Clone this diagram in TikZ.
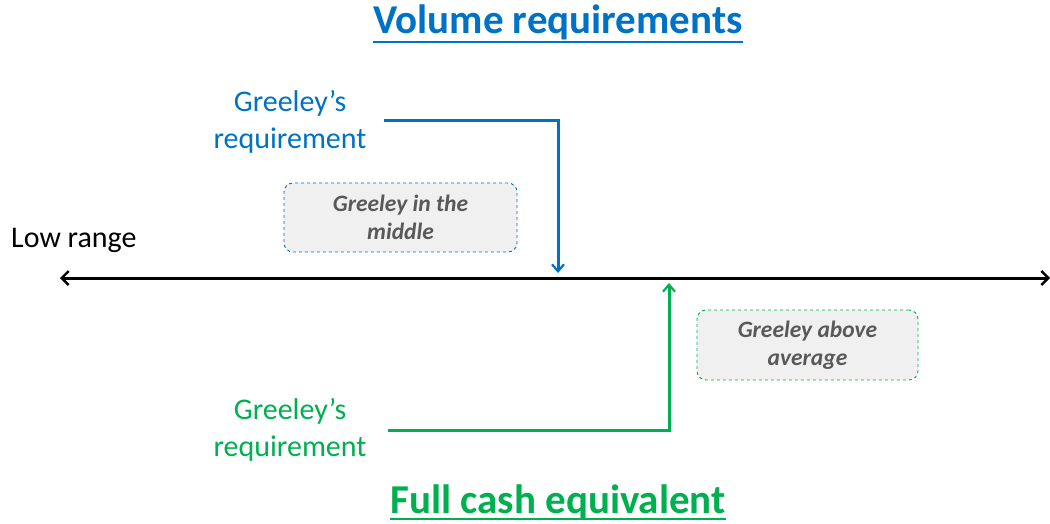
\documentclass[tikz,border=0pt]{standalone}
\usepackage{fontspec}
\setmainfont{Carlito}
\usetikzlibrary{arrows.meta}
\definecolor{vblue}{RGB}{0,114,198}
\definecolor{fgreen}{RGB}{0,176,80}
\definecolor{boxfill}{RGB}{240,240,240}
\definecolor{boxtext}{RGB}{89,89,89}
\tikzset{
  title/.style={font=\fontsize{41}{48}\selectfont\bfseries, inner sep=0pt},
  req/.style={font=\fontsize{30}{37}\selectfont, align=center, inner sep=0pt},
  note/.style={rounded corners=9pt, fill=boxfill, dashed, line width=0.9pt, minimum width=233pt, minimum height=69pt, align=center, font=\fontsize{23.5}{28}\selectfont\bfseries\itshape, text=boxtext, inner sep=0pt},
  conn/.style={line width=3pt, -{Straight Barb[length=7pt,width=12pt,line width=2.2pt]}},
}
\begin{document}
\begin{tikzpicture}[x=1pt,y=-1pt]
\useasboundingbox (0,0) rectangle (1050,524);
% titles
\node[title, text=vblue] (t1) at (558,22) {Volume requirements};
\coordinate (u1) at (0,42);
\draw[vblue, line width=2.4pt] (t1.west |- u1) -- (t1.east |- u1);
\node[title, text=fgreen] (t2) at (558,502) {Full cash equivalent};
\coordinate (u2) at (0,519);
\draw[fgreen, line width=2.4pt] (t2.west |- u2) -- (t2.east |- u2);
% axis
\coordinate (axL) at (60,278);
\coordinate (axR) at (1050,278);
\draw[line width=3pt, {Straight Barb[length=7pt,width=14pt,line width=2.4pt]}-{Straight Barb[length=7pt,width=14pt,line width=2.4pt]}] (axL) -- (axR);
\node[font=\fontsize{30}{36}\selectfont, anchor=west, inner sep=0pt] (low) at (11,240) {Low range};
% blue requirement
\node[req, text=vblue] (r1) at (290,122) {Greeley’s\\requirement};
\coordinate (b1) at (384,121);
\coordinate (b2) at (558,121);
\coordinate (b3) at (558,273);
\draw[vblue, conn] (b1) -- (b2) -- (b3);
% green requirement
\node[req, text=fgreen] (r2) at (290,430) {Greeley’s\\requirement};
\coordinate (g1) at (388,430);
\coordinate (g2) at (669,430);
\coordinate (g3) at (669,283);
\draw[fgreen, conn] (g1) -- (g2) -- (g3);
% notes
\node[note, draw=vblue] (n1) at (400.5,217.5) {Greeley in the\\middle};
\node[note, draw=fgreen, minimum width=221pt, minimum height=70pt] (n2) at (807.5,345) {Greeley above\\average};
\end{tikzpicture}
\end{document}
